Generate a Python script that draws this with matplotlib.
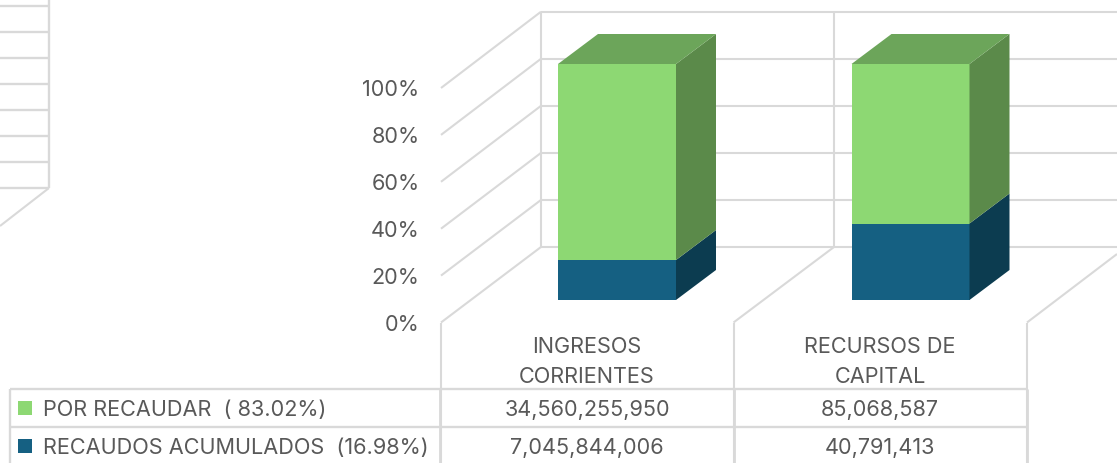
import matplotlib
matplotlib.use('Agg')
import matplotlib.pyplot as plt
from matplotlib.patches import Polygon, Rectangle

categories = ['INGRESOS\nCORRIENTES', 'RECURSOS DE\nCAPITAL']
por_recaudar = [34560255950, 85068587]
recaudos = [7045844006, 40791413]
por_recaudar_labels = ['34,560,255,950', '85,068,587']
recaudos_labels = ['7,045,844,006', '40,791,413']
legend_labels = ['POR RECAUDAR  ( 83.02%)', 'RECAUDOS ACUMULADOS  (16.98%)']
y_ticks = [0, 20, 40, 60, 80, 100]
left_grid_y = [6, 32, 58, 84, 110, 136, 162, 188]

GREEN = '#8DD873'
GREEN_TOP = '#6CA55A'
GREEN_SIDE = '#5B8A4A'
BLUE = '#156082'
BLUE_SIDE = '#0C3C50'
GRID = '#D9D9D9'
TEXT = '#595959'
FONT = 'Inter'
FONT_SIZE = 15.6
W, H = 1117, 464

fig = plt.figure(figsize=(W / 100, H / 100), dpi=100, facecolor='white')

# background layer in pixel units: walls, floor and table lines
bg = fig.add_axes([0, 0, 1, 1])
bg.set_xlim(0, W)
bg.set_ylim(H - 1, -1)
bg.axis('off')


def line(xs, ys, lw=1.5):
    bg.plot(xs, ys, color=GRID, lw=lw, solid_capstyle='butt', clip_on=True)


def label(x, y, s, ha='center'):
    bg.text(x, y + 1, s, ha=ha, va='center', fontsize=FONT_SIZE, color=TEXT, family=FONT)


for t in y_ticks:
    front_y = 322.5 - t * 2.345
    back_y = 247 - t * 2.353
    line([441, 541], [front_y, back_y])
    line([541, W], [back_y, back_y])
    label(419.5, front_y + 0.5, f'{t}%', ha='right')

line([541, 541], [11.7, 247])
line([834, 834], [11.7, 247])
line([441, 441], [322.5, 464])
line([733.5, 733.5], [322.5, 464])
line([1027, 1027], [322.5, 464])
line([733.5, 834], [322.5, 247])
line([1027, 1117], [322.5, 254])

# table
for y in [389, 427]:
    line([10, 1027], [y, y], lw=1.7)
line([10, 10], [389, 464], lw=1.7)
line([440, 440], [389, 464], lw=2)
line([733.5, 733.5], [389, 464], lw=2)
line([1027, 1027], [389, 464], lw=2)

# piece of the neighbouring chart on the left
line([49, 49], [0, 188], lw=1.7)
for y in left_grid_y:
    line([0, 49], [y, y], lw=1.7)
line([49, 0], [188, 226])

# table and category text
rows = [(GREEN, legend_labels[0], por_recaudar_labels, 408),
        (BLUE, legend_labels[1], recaudos_labels, 446)]
for color, name, values, y in rows:
    bg.add_patch(Rectangle((18, y - 7), 13.5, 13.5, facecolor=color, edgecolor='none'))
    label(43, y, name, ha='left')
    label(587, y, values[0])
    label(880, y, values[1])
for cx, name in zip([587, 880], categories):
    first, second = name.split('\n')
    label(cx, 345, first)
    label(cx, 375, second)

# bars: x in category units, y in percent
px_per_cat = 293.5
px_per_pct = 2.36
ax = fig.add_axes([0, 0, 1, 1])
ax.patch.set_alpha(0)
ax.axis('off')
ax.set_xlim(-617 / px_per_cat, (W - 617) / px_per_cat)
ax.set_ylim(-(H - 1 - 300) / px_per_pct, (300 + 1) / px_per_pct)

bar_w = 118 / px_per_cat
dx = 40 / px_per_cat
dy = 30 / px_per_pct

for i in range(len(categories)):
    total = por_recaudar[i] + recaudos[i]
    low = recaudos[i] / total * 100
    x0 = i - bar_w / 2
    x1 = i + bar_w / 2
    ax.bar(i, low, bar_w, color=BLUE, linewidth=0)
    ax.bar(i, 100 - low, bar_w, bottom=low, color=GREEN, linewidth=0)
    ax.add_patch(Polygon([(x1, 0), (x1 + dx, dy), (x1 + dx, low + dy), (x1, low)], facecolor=BLUE_SIDE, edgecolor='none'))
    ax.add_patch(Polygon([(x1, low), (x1 + dx, low + dy), (x1 + dx, 100 + dy), (x1, 100)], facecolor=GREEN_SIDE, edgecolor='none'))
    ax.add_patch(Polygon([(x0, 100), (x0 + dx, 100 + dy), (x1 + dx, 100 + dy), (x1, 100)], facecolor=GREEN_TOP, edgecolor='none'))

fig.savefig('out.png', dpi=100)
